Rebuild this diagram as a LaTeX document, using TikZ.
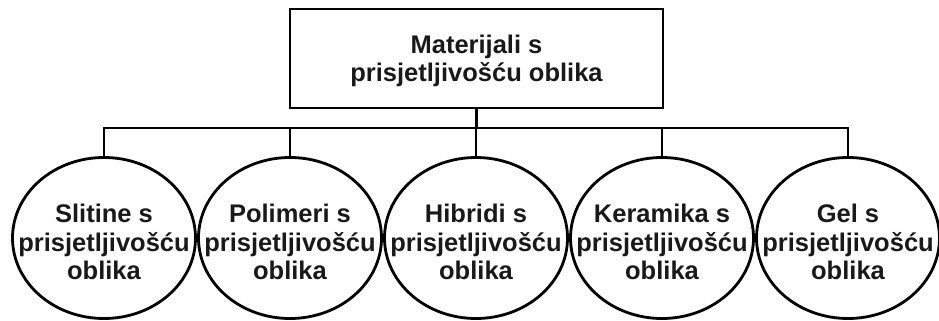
\documentclass[tikz,border=0pt]{standalone}
\usepackage{fontspec}
\setmainfont{Liberation Sans}
\usetikzlibrary{shapes.geometric}
\begin{document}
\begin{tikzpicture}[x=1pt,y=-1pt,
  line width=2.8pt,
  txt/.style={font=\bfseries\fontsize{25.5}{28.5}\selectfont, align=center, text=black!90, inner sep=0pt},
  topbox/.style={draw, rectangle, minimum width=373pt, minimum height=99pt, inner sep=0pt},
  oval/.style={draw, ellipse, minimum width=183pt, minimum height=161pt, inner sep=0pt},
  wire/.style={line width=2.8pt, line cap=rect}]
\useasboundingbox (0,0) rectangle (939,321);
\node[topbox] (top) at (476.5,58.5) {};
\node[txt] (toptxt) at (476.5,61) {Materijali s\\prisjetljivošću oblika};
\foreach \i/\x/\t in {1/104/Slitine s, 2/290/Polimeri s, 3/476/Hibridi s, 4/662/Keramika s, 5/848/Gel s}{
  \node[oval] (c\i) at (\x,238) {};
  \node[txt] (t\i) at (\x,242) {\t\\prisjetljivošću\\oblika};
}
\coordinate (bus) at (476,128);
\draw[wire] (top.south) -- (top.south |- bus);
\draw[wire] (c1.north |- bus) -- (c5.north |- bus);
\foreach \i in {1,...,5}{
  \draw[wire] (c\i.north |- bus) -- (c\i.north);
}
\end{tikzpicture}
\end{document}
